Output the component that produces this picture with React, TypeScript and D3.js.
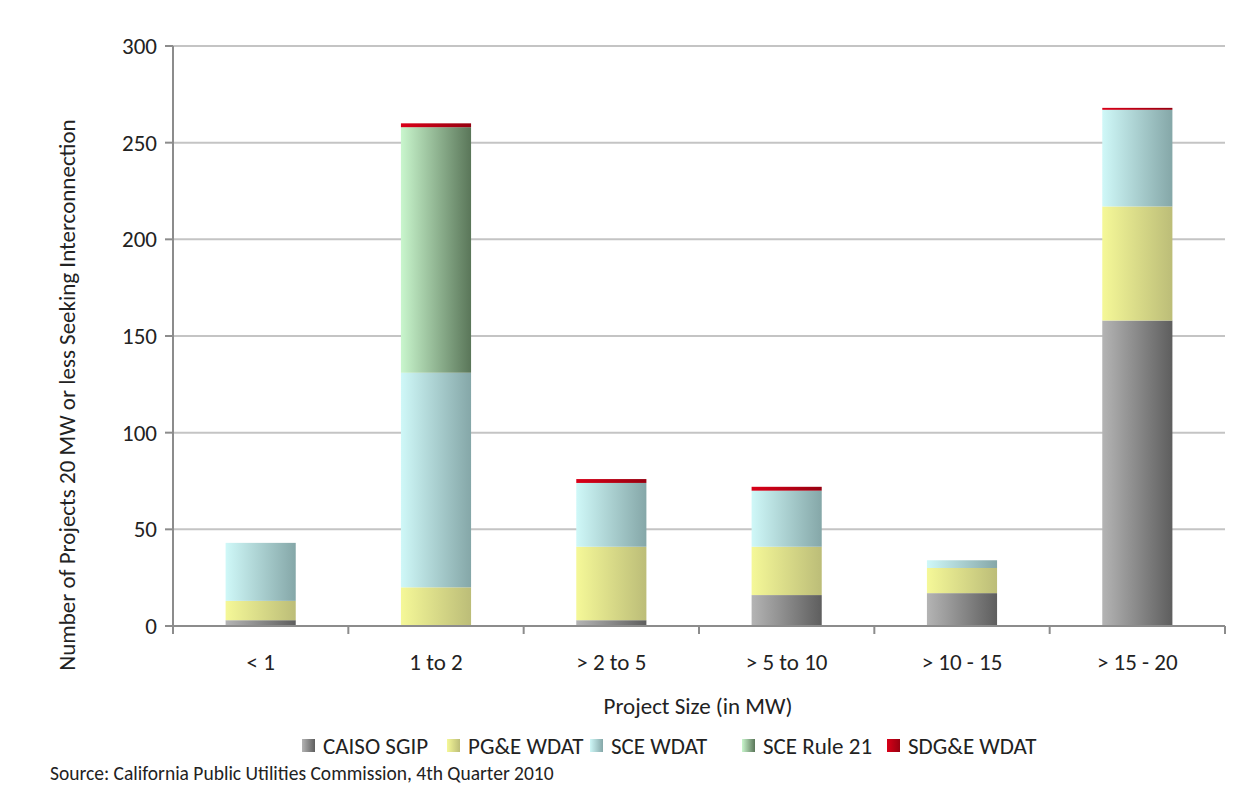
import React from 'react'
import * as d3 from 'd3'

const categories = ['< 1', '1 to 2', '> 2 to 5', '> 5 to 10', '> 10 - 15', '> 15 - 20']
const seriesNames = ['CAISO SGIP', 'PG&E WDAT', 'SCE WDAT', 'SCE Rule 21', 'SDG&E WDAT']
const caiso = [3, 0, 3, 16, 17, 158]
const pge = [10, 20, 38, 25, 13, 59]
const sceWdat = [30, 111, 33, 29, 4, 50]
const sceRule21 = [0, 127, 0, 0, 0, 0]
const sdge = [0, 2, 2, 2, 0, 1]
const yTicks = [0, 50, 100, 150, 200, 250, 300]

// light -> dark horizontal gradient stops per series
const gradStops = [
  ['#b4b4b4', '#5e5e5e'],
  ['#f5f898', '#bcbd78'],
  ['#cff8f8', '#85a7a8'],
  ['#c9f6cd', '#5a7659'],
  ['#d90018', '#960010'],
]

const FONT = "Carlito, Calibri, Lato, 'Open Sans', sans-serif"
const FS = 23

export default function App() {
  const W = 1248
  const H = 785
  const left = 173
  const right = 1225
  const top = 46
  const bottom = 626

  const x = d3.scaleBand().domain(categories).range([left, right]).paddingInner(0.6).paddingOuter(0.3)
  const band = d3.scaleBand().domain(categories).range([left, right])
  const y = d3.scaleLinear().domain([0, 300]).range([bottom, top])

  const table = categories.map((c, i) => ({
    cat: c,
    s0: caiso[i], s1: pge[i], s2: sceWdat[i], s3: sceRule21[i], s4: sdge[i],
  }))
  const stacked = d3.stack<any>().keys(['s0', 's1', 's2', 's3', 's4'])(table)

  const legendX = [302, 447, 590, 742, 887]

  return (
    <svg width={W} height={H} style={{ position: 'absolute', left: 0, top: 0, background: '#fff' }}>
      <defs>
        {gradStops.map((g, i) => (
          <linearGradient key={i} id={`g${i}`} x1="0" x2="1" y1="0" y2="0">
            <stop offset="0%" stopColor={g[0]} />
            <stop offset="100%" stopColor={g[1]} />
          </linearGradient>
        ))}
      </defs>

      {/* gridlines */}
      {yTicks.filter(t => t > 0).map(t => (
        <line key={t} x1={left} x2={right} y1={y(t)} y2={y(t)} stroke="#c4c4c4" strokeWidth={2} />
      ))}

      {/* bars */}
      {stacked.map((layer, si) =>
        layer.map((d, i) => {
          const h = y(d[0]) - y(d[1])
          if (h <= 0) return null
          return (
            <rect key={`${si}-${i}`} x={x(categories[i])} y={y(d[1])} width={x.bandwidth()} height={h}
              fill={`url(#g${si})`} />
          )
        })
      )}

      {/* axes */}
      <line x1={left} x2={left} y1={top} y2={bottom} stroke="#8c8c8c" strokeWidth={2} />
      <line x1={left} x2={right} y1={bottom} y2={bottom} stroke="#8c8c8c" strokeWidth={2} />
      {yTicks.map(t => (
        <g key={t}>
          <line x1={left - 8} x2={left} y1={y(t)} y2={y(t)} stroke="#8c8c8c" strokeWidth={2} />
          <text x={left - 16} y={y(t)} dy="0.35em" textAnchor="end" fontFamily={FONT} fontSize={FS} fill="#222">{t}</text>
        </g>
      ))}
      {categories.map((c, i) => (
        <g key={c}>
          <line x1={band(c)! + band.bandwidth()} x2={band(c)! + band.bandwidth()} y1={bottom} y2={bottom + 8}
            stroke="#8c8c8c" strokeWidth={2} />
          <text x={band(c)! + band.bandwidth() / 2} y={bottom + 44} textAnchor="middle" fontFamily={FONT} fontSize={FS} fill="#222">{c}</text>
        </g>
      ))}
      <line x1={left} x2={left} y1={bottom} y2={bottom + 8} stroke="#8c8c8c" strokeWidth={2} />

      {/* titles */}
      <text x={(left + right) / 2 - 1} y={714} textAnchor="middle" fontFamily={FONT} fontSize={FS} fill="#222">Project Size (in MW)</text>
      <text transform={`translate(75,${(top + bottom) / 2 + 59}) rotate(-90)`} textAnchor="middle" fontFamily={FONT} fontSize={FS} fill="#222">
        Number of Projects 20 MW or less Seeking Interconnection
      </text>

      {/* legend */}
      {seriesNames.map((s, i) => (
        <g key={s}>
          <rect x={legendX[i]} y={739} width={13} height={13} fill={`url(#g${i})`} />
          <text x={legendX[i] + 21} y={746} dy="0.36em" fontFamily={FONT} fontSize={FS} fill="#222">{s}</text>
        </g>
      ))}

      <text x={50} y={780} fontFamily={FONT} fontSize={19.5} fill="#222">Source: California Public Utilities Commission, 4th Quarter 2010</text>
    </svg>
  )
}
